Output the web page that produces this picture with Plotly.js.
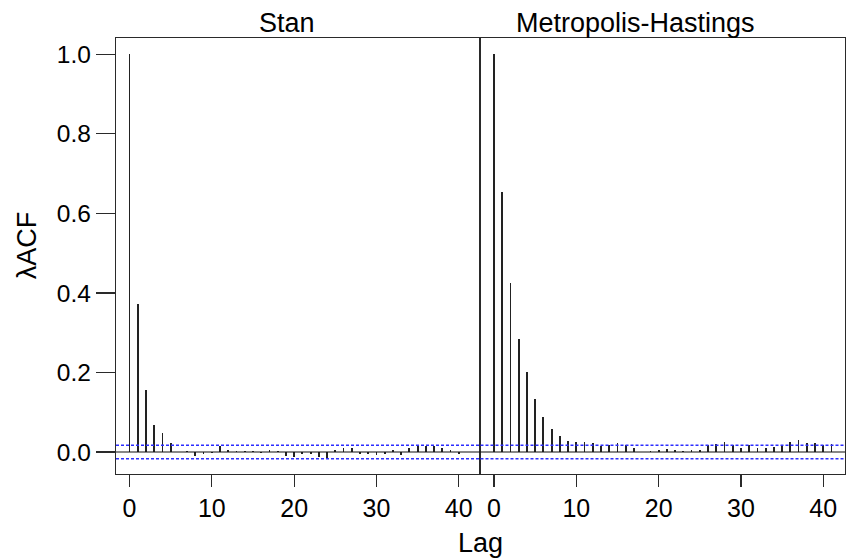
<!DOCTYPE html>
<html>
<head>
<meta charset="utf-8">
<script src="https://cdn.plot.ly/plotly-3.0.1.min.js"></script>
<style>html,body{margin:0;padding:0;background:#fff;}#chart{width:847px;height:560px;}</style>
</head>
<body>
<div id="chart"></div>
<script>
// Lags 0..41
const lags = Array.from({length: 42}, (_, i) => i);

const stanACF = [1.0, 0.3725, 0.155, 0.0675, 0.047, 0.023, 0.0, 0.002, -0.010, -0.004,
  -0.002, 0.016, 0.005, 0.002, 0.002, 0.002, -0.003, 0.004, 0.002, -0.010,
  -0.012, -0.006, -0.006, -0.012, -0.016, 0.004, 0.011, 0.011, -0.004, -0.006,
  -0.007, -0.004, 0.006, -0.007, 0.010, 0.016, 0.016, 0.016, 0.010, 0.005,
  -0.004, 0.0];

const mhACF = [1.0, 0.655, 0.425, 0.285, 0.2, 0.134, 0.087, 0.059, 0.040, 0.0275,
  0.024, 0.024, 0.022, 0.015, 0.017, 0.022, 0.017, 0.009, 0.001, 0.003,
  0.005, 0.007, 0.005, 0.003, 0.006, 0.006, 0.017, 0.020, 0.026, 0.017,
  0.010, 0.017, 0.010, 0.010, 0.012, 0.017, 0.025, 0.029, 0.023, 0.022,
  0.018, 0.020];

const ciBound = 0.017;
const panelTitles = ["Stan", "Metropolis-Hastings"];
const xTickVals = [0, 10, 20, 30, 40];
const yTickVals = [0.0, 0.2, 0.4, 0.6, 0.8, 1.0];
const yTickText = ["0.0", "0.2", "0.4", "0.6", "0.8", "1.0"];

const FONT = "Liberation Sans, Arial, sans-serif";
const barColor = "#222222";
const lineColor = "#2a2a2a";

const traces = [
  {type: "bar", x: lags, y: stanACF, xaxis: "x", yaxis: "y", width: 0.22,
   marker: {color: barColor, line: {width: 0}}, hoverinfo: "x+y"},
  {type: "bar", x: lags, y: mhACF, xaxis: "x2", yaxis: "y2", width: 0.22,
   marker: {color: barColor, line: {width: 0}}, hoverinfo: "x+y"}
];

const xRange = [-1.64, 42.64];
const yRange = [-0.0553, 1.041];

function xAxis(domain, anchor) {
  return {
    domain: domain, anchor: anchor, range: xRange,
    tickvals: xTickVals, ticktext: xTickVals.map(String),
    ticks: "outside", ticklen: 12, tickwidth: 1.2, tickcolor: lineColor,
    showline: true, mirror: true, linecolor: lineColor, linewidth: 1.2,
    showgrid: false, zeroline: false,
    tickfont: {family: FONT, size: 25, color: "#000"}
  };
}

const shapes = [];
["x", "x2"].forEach((xa, i) => {
  const ya = i === 0 ? "y" : "y2";
  [ciBound, -ciBound].forEach(v => {
    shapes.push({type: "line", xref: xa + " domain", yref: ya,
      x0: 0, x1: 1, y0: v, y1: v,
      line: {color: "#2d2dff", width: 1.4, dash: "3px,2px"}});
  });
  shapes.push({type: "line", xref: xa + " domain", yref: ya,
    x0: 0, x1: 1, y0: 0, y1: 0,
    line: {color: "#111", width: 1.2}});
});

const layout = {
  width: 847, height: 560,
  margin: {l: 116, r: 2, t: 38, b: 86},
  paper_bgcolor: "#fff", plot_bgcolor: "#fff",
  showlegend: false,
  bargap: 0,
  font: {family: FONT, color: "#000"},
  xaxis: xAxis([0, 0.5], "y"),
  xaxis2: xAxis([0.5, 1], "y2"),
  yaxis: {
    domain: [0, 1], anchor: "x", range: yRange,
    tickvals: yTickVals, ticktext: yTickText,
    ticks: "outside", ticklen: 19, tickwidth: 1.2, tickcolor: lineColor,
    showline: true, mirror: false, linecolor: lineColor, linewidth: 1.2,
    showgrid: false, zeroline: false,
    tickfont: {family: FONT, size: 24.5, color: "#000"}
  },
  yaxis2: {
    domain: [0, 1], anchor: "x2", range: yRange, matches: "y",
    showticklabels: false, ticks: "",
    showline: true, mirror: true, linecolor: lineColor, linewidth: 1.2,
    showgrid: false, zeroline: false
  },
  shapes: shapes,
  annotations: [
    {text: panelTitles[0], xref: "paper", yref: "paper", x: 0.2346, y: 1.034,
     xanchor: "center", yanchor: "middle", showarrow: false,
     font: {family: FONT, size: 27, color: "#000"}},
    {text: panelTitles[1], xref: "paper", yref: "paper", x: 0.7133, y: 1.034,
     xanchor: "center", yanchor: "middle", showarrow: false,
     font: {family: FONT, size: 27, color: "#000"}},
    {text: "Lag", xref: "paper", yref: "paper", x: 0.5, y: -0.158,
     xanchor: "center", yanchor: "middle", showarrow: false,
     font: {family: FONT, size: 27, color: "#000"}},
    {text: "λACF", xref: "paper", yref: "paper", x: -0.122, y: 0.525,
     xanchor: "center", yanchor: "middle", showarrow: false, textangle: -90,
     font: {family: FONT, size: 27, color: "#000"}}
  ]
};

Plotly.newPlot("chart", traces, layout, {displayModeBar: false, staticPlot: true});
</script>
</body>
</html>
